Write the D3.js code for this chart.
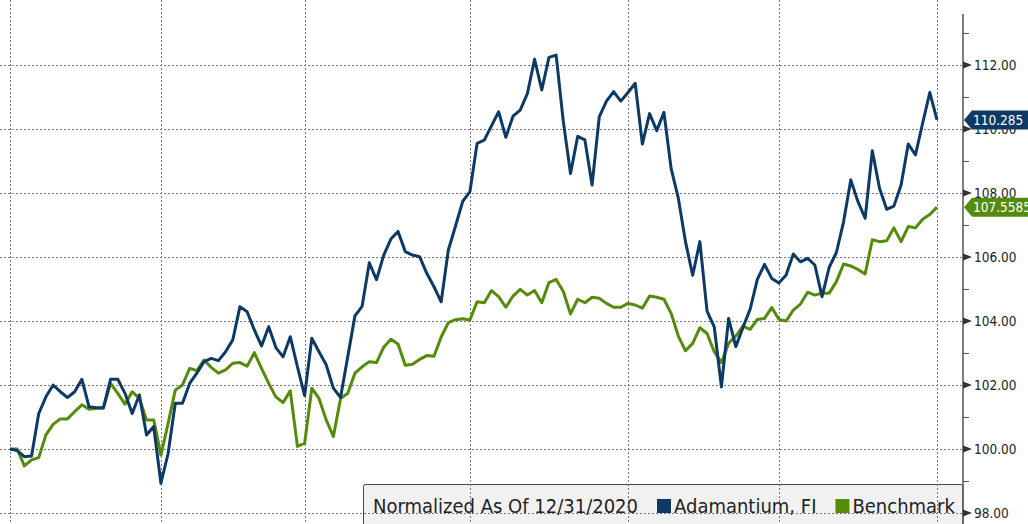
<!DOCTYPE html>
<svg width="1028" height="524"></svg>
<style>
  body { margin: 0; background: #fff; }
  svg { display: block; font-family: "DejaVu Sans Condensed", "DejaVu Sans", sans-serif; }
  .grid line { stroke: #777; stroke-width: 1; stroke-dasharray: 2,2; }
  .axis text { fill: #222; font-size: 13.5px; }
</style>
<script src="https://cdnjs.cloudflare.com/ajax/libs/d3/7.8.5/d3.min.js"></script>
<script>

// daily values, normalized to 100 as of 12/31/2020
var fund = [
  100.00, 99.95, 99.76, 99.78, 101.11, 101.63, 102.00, 101.79, 101.61, 101.79,
  102.18, 101.32, 101.29, 101.29, 102.18, 102.18, 101.74, 101.11, 101.69, 100.44,
  100.70, 98.93, 99.86, 101.43, 101.43, 102.05, 102.37, 102.73, 102.83, 102.76,
  103.04, 103.41, 104.45, 104.29, 103.72, 103.22, 103.82, 103.17, 102.88, 103.51,
  102.57, 101.67, 103.46, 103.04, 102.63, 101.90, 101.61, 102.88, 104.16, 104.46,
  105.82, 105.29, 106.05, 106.56, 106.80, 106.17, 106.06, 106.01, 105.49, 105.07,
  104.60, 106.22, 106.97, 107.74, 108.04, 109.55, 109.65, 110.10, 110.54, 109.74,
  110.40, 110.59, 111.11, 112.18, 111.22, 112.24, 112.31, 110.23, 108.61, 109.77,
  109.66, 108.25, 110.38, 110.87, 111.17, 110.87, 111.14, 111.43, 109.53, 110.48,
  109.95, 110.52, 108.77, 107.84, 106.48, 105.43, 106.48, 104.31, 103.82, 101.94,
  104.08, 103.20, 103.80, 104.37, 105.30, 105.77, 105.33, 105.19, 105.44, 106.09,
  105.85, 105.96, 105.75, 104.76, 105.68, 106.14, 107.10, 108.41, 107.73, 107.21,
  109.32, 108.15, 107.49, 107.59, 108.25, 109.53, 109.19, 110.18, 111.14, 110.285
];

var bench = [
  100.00, 100.00, 99.47, 99.66, 99.73, 100.44, 100.77, 100.94, 100.94, 101.17,
  101.38, 101.24, 101.27, 101.27, 102.05, 101.74, 101.40, 101.79, 101.58, 100.91,
  100.91, 99.81, 100.80, 101.84, 102.00, 102.52, 102.45, 102.78, 102.55, 102.37,
  102.47, 102.68, 102.70, 102.59, 103.01, 102.52, 102.05, 101.63, 101.45, 101.82,
  100.08, 100.18, 101.90, 101.58, 100.91, 100.39, 101.58, 101.74, 102.37, 102.57,
  102.73, 102.70, 103.18, 103.43, 103.28, 102.62, 102.65, 102.80, 102.92, 102.90,
  103.50, 103.95, 104.04, 104.07, 104.03, 104.60, 104.57, 104.95, 104.76, 104.43,
  104.78, 104.99, 104.81, 104.95, 104.57, 105.20, 105.30, 104.92, 104.22, 104.68,
  104.57, 104.74, 104.71, 104.55, 104.43, 104.43, 104.55, 104.50, 104.40, 104.78,
  104.74, 104.68, 104.24, 103.53, 103.07, 103.30, 103.79, 103.61, 103.04, 102.70,
  103.30, 103.53, 103.84, 103.74, 104.05, 104.08, 104.42, 104.05, 104.00, 104.34,
  104.53, 104.90, 104.81, 104.87, 104.87, 105.23, 105.78, 105.72, 105.61, 105.47,
  106.54, 106.48, 106.51, 106.91, 106.48, 106.95, 106.91, 107.18, 107.33, 107.5585
];

// month starts (index of trading day) used for vertical grid
var monthIdx = [0, 21, 41, 64, 86, 107, 129];
var majorTicks = [98, 100, 102, 104, 106, 108, 110, 112];
var minorTicks = [99, 101, 103, 105, 107, 109, 111, 113];

var lastFund = "110.285", lastBench = "107.5585";
var legendTitle = "Normalized As Of 12/31/2020";
var seriesNames = ["Adamantium, FI", "Benchmark"];
var colors = ["#0d3a65", "#558b0b"];

var svg = d3.select("svg"),
    width = +svg.attr("width"),
    height = +svg.attr("height"),
    axisX = 963;

var x = d3.scaleLinear()
    .domain([0, fund.length - 1])
    .range([10, 937]);

var y = d3.scaleLinear()
    .domain([98, 112])
    .range([513, 65]);

// grid
var grid = svg.append("g").attr("class", "grid");
grid.selectAll(".h")
    .data(majorTicks)
  .enter().append("line")
    .attr("x1", 0)
    .attr("x2", axisX)
    .attr("y1", function(d) { return Math.round(y(d)) + 0.5; })
    .attr("y2", function(d) { return Math.round(y(d)) + 0.5; });
grid.selectAll(".v")
    .data(monthIdx)
  .enter().append("line")
    .attr("x1", function(d) { return Math.round(x(d)) + 0.5; })
    .attr("x2", function(d) { return Math.round(x(d)) + 0.5; })
    .attr("y1", 0)
    .attr("y2", height);

// legend box sits under the lines and grid
var legend = svg.insert("g", ".grid");
legend.append("rect")
    .attr("x", 363.5)
    .attr("y", 484.5)
    .attr("width", axisX - 363.5)
    .attr("height", 60)
    .attr("rx", 2)
    .attr("fill", "#f1f1f1")
    .attr("stroke", "#444")
    .attr("stroke-width", 1);

// the two series
var line = d3.line()
    .x(function(d, i) { return x(i); })
    .y(function(d) { return y(d); });

[bench, fund].forEach(function(s, k) {
  svg.append("path")
      .datum(s)
      .attr("fill", "none")
      .attr("stroke", colors[1 - k])
      .attr("stroke-width", 3)
      .attr("stroke-linejoin", "round")
      .attr("d", line);
});

// right axis
var axis = svg.append("g")
    .attr("class", "axis")
    .attr("transform", "translate(" + axisX + ",0)");

axis.append("line")
    .attr("y1", 14)
    .attr("y2", height)
    .attr("stroke", "#555")
    .attr("stroke-width", 1.5);

axis.selectAll(".minor")
    .data(minorTicks)
  .enter().append("line")
    .attr("x1", 0)
    .attr("x2", 6)
    .attr("y1", function(d) { return Math.round(y(d)) + 0.5; })
    .attr("y2", function(d) { return Math.round(y(d)) + 0.5; })
    .attr("stroke", "#555");

axis.selectAll(".tri")
    .data(majorTicks)
  .enter().append("path")
    .attr("d", function(d) { var t = y(d); return "M0," + (t - 3.5) + "L9," + t + "L0," + (t + 3.5) + "Z"; })
    .attr("fill", "#333");

axis.selectAll(".lab")
    .data(majorTicks)
  .enter().append("text")
    .attr("x", 11)
    .attr("y", function(d) { return y(d); })
    .attr("dy", "0.36em")
    .text(d3.format(".2f"));

// last value tags
[[fund, lastFund, colors[0]], [bench, lastBench, colors[1]]].forEach(function(t) {
  var ty = y(t[0][t[0].length - 1]);
  var tag = svg.append("g").attr("transform", "translate(" + axisX + "," + ty + ")");
  tag.append("path")
      .attr("d", "M1,0L9,-9.5L" + (width - axisX) + ",-9.5L" + (width - axisX) + ",9.5L9,9.5Z")
      .attr("fill", t[2]);
  tag.append("text")
      .attr("x", 10)
      .attr("dy", "0.36em")
      .style("fill", "#fff")
      .style("font-size", "13.5px")
      .text(t[1]);
});

// legend text
var lx = 373, ly = 513;
var title = legend.append("text")
    .attr("x", lx)
    .attr("y", ly)
    .style("font-size", "20px")
    .style("fill", "#222")
    .text(legendTitle);
lx += title.node().getComputedTextLength() + 19;

seriesNames.forEach(function(name, i) {
  legend.append("rect")
      .attr("x", lx)
      .attr("y", ly - 14)
      .attr("width", 14)
      .attr("height", 14)
      .attr("fill", colors[i]);
  var t = legend.append("text")
      .attr("x", lx + 17)
      .attr("y", ly)
      .style("font-size", "20px")
      .style("fill", "#222")
      .text(name);
  lx += 17 + t.node().getComputedTextLength() + 19;
});

</script>
